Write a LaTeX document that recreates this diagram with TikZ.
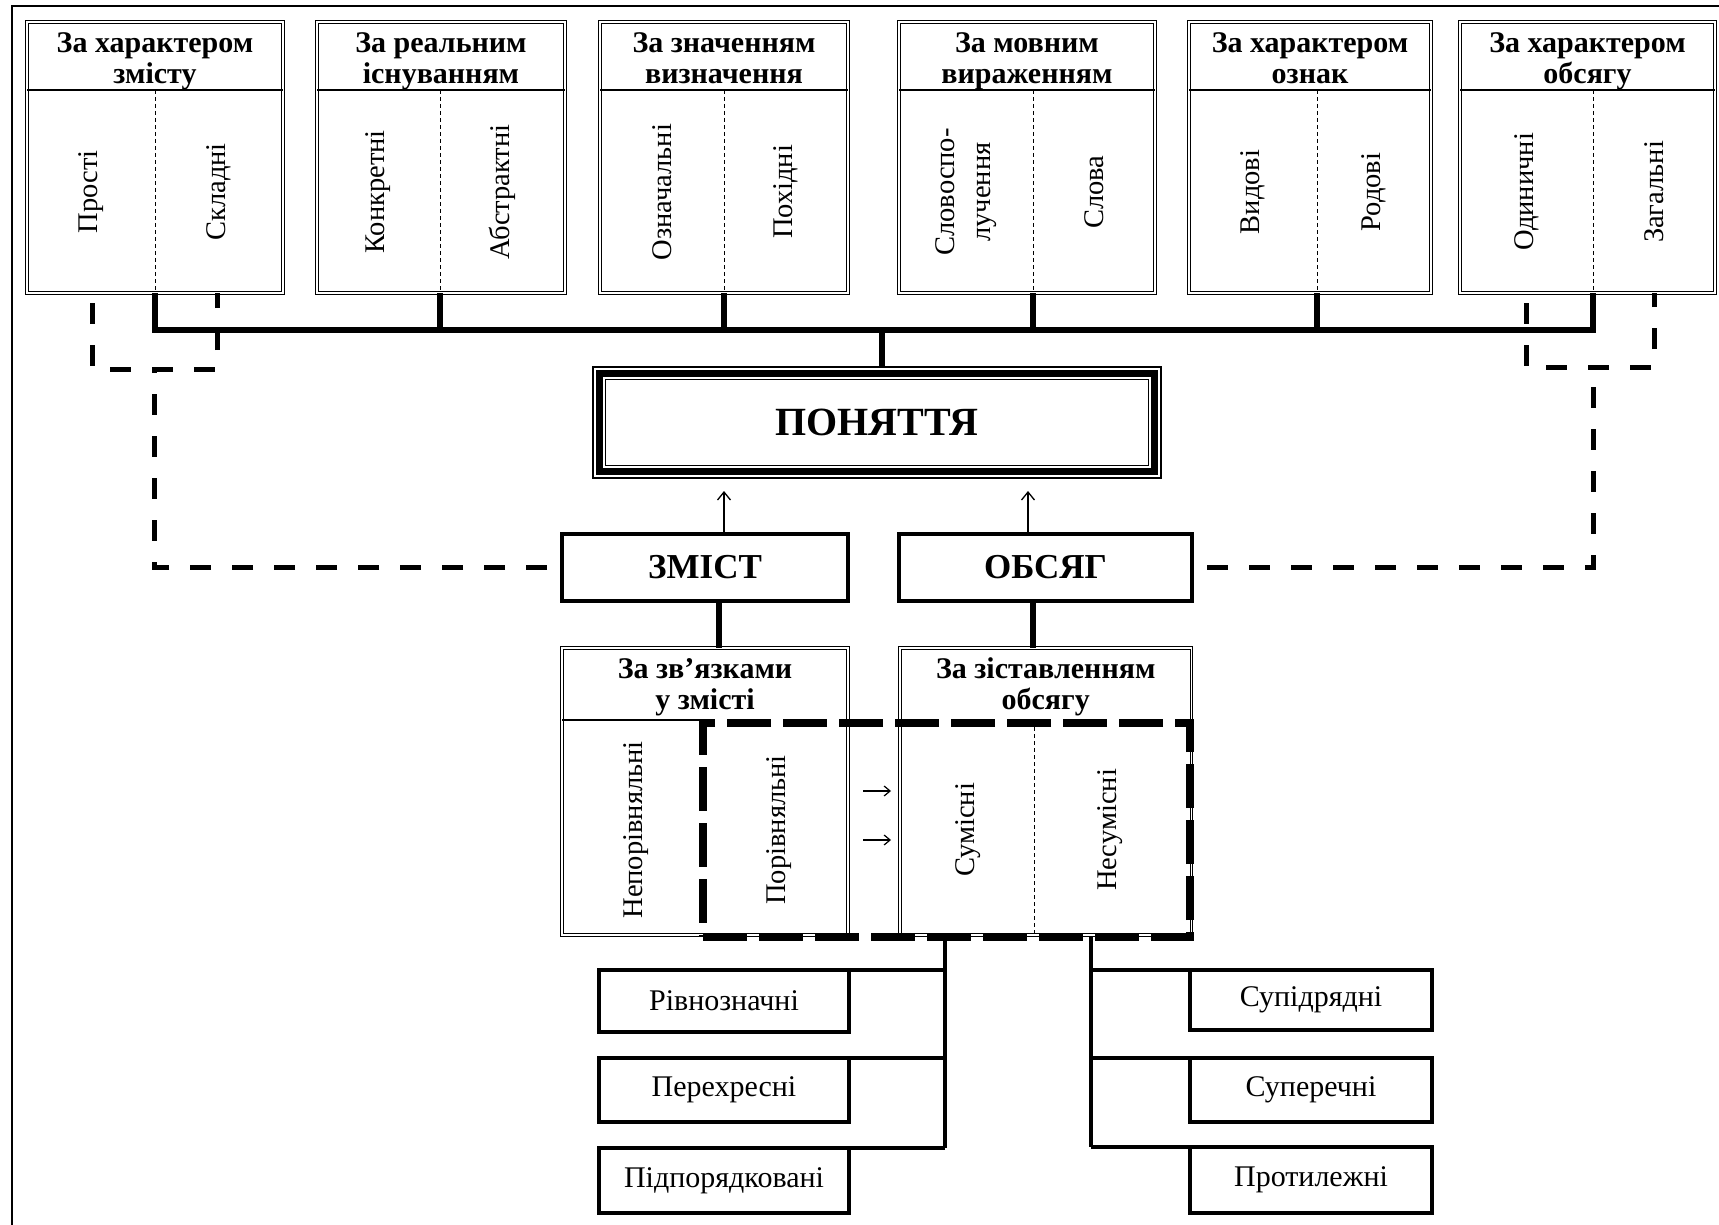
\documentclass[tikz,border=0pt]{standalone}
\usepackage{fontspec}
\setmainfont{Liberation Serif}
\usetikzlibrary{arrows.meta,calc}
\newcommand\HdrF{\bfseries\fontsize{30}{31}\selectfont}
\newcommand\VerF{\fontsize{28.5}{36}\selectfont}
\newcommand\LblF{\fontsize{30}{32}\selectfont}
\newcommand\PonF{\bfseries\fontsize{40}{42}\selectfont}
\newcommand\ZmF{\bfseries\fontsize{35}{37}\selectfont}
\tikzset{
 dbl/.style={draw, double, double distance=1.6pt, line width=0.9pt, outer sep=0pt, inner sep=0pt},
 thickbox/.style={draw, line width=4.5pt, outer sep=0pt, inner sep=0pt, font=\LblF},
 thinln/.style={line width=1.2pt},
 dotdiv/.style={line width=0.9pt, dash pattern=on 4pt off 3pt},
 busln/.style={line width=6pt},
 connln/.style={line width=4.5pt},
 dshln/.style={line width=5pt, dash pattern=on 21pt off 21pt},
 bigdsh/.style={draw, line width=8pt, dash pattern=on 44pt off 12pt, outer sep=0pt, inner sep=0pt},
 hdr/.style={font=\HdrF, align=center, inner sep=0pt},
 vtxt/.style={rotate=90, font=\VerF, align=center, inner sep=0pt},
 uparr/.style={line width=1.3pt, -{Straight Barb[length=8pt,width=13pt]}},
 smarr/.style={line width=1.2pt, -{Straight Barb[length=6pt,width=10pt]}},
}
\newcommand\TopBox[8]{%
  \node[dbl, anchor=north west, minimum width={(#3-#2)*1pt}, minimum height=271pt] (b#1) at (#2,22) {};
  \draw[thinln] (#2,90) -- (#3,90);
  \draw[dotdiv] (#4,90) -- (#4,293);
  \coordinate (d#1) at (#4,293);
  \node[hdr] (h#1) at ({(#2+#3)/2},61.5) {\strut#5\\#6\strut};
  \node[vtxt] (tl#1) at ({(#2+#4)/2},192) {#7};
  \node[vtxt] (tr#1) at ({(#4+#3)/2},192) {#8};
}
\begin{document}
\begin{tikzpicture}[x=1pt,y=-1pt]
\useasboundingbox (0,0) rectangle (1719,1225);
\fill[white] (0,0) rectangle (1719,1225);
% outer frame
\draw[line width=2.6pt] (12,1240) -- (12,6) -- (1740,6);

% top category boxes
\TopBox{1}{27}{283}{155}{За характером}{змісту}{Прості}{Складні}
\TopBox{2}{317}{565}{440}{За реальним}{існуванням}{Конкретні}{Абстрактні}
\TopBox{3}{600}{848}{724}{За значенням}{визначення}{Означальні}{Похідні}
\TopBox{4}{899}{1155}{1033}{За мовним}{вираженням}{Словоспо-\\лучення}{Слова}
\TopBox{5}{1189}{1431}{1317}{За характером}{ознак}{Видові}{Родові}
\TopBox{6}{1460}{1715}{1593}{За характером}{обсягу}{Одиничні}{Загальні}

% main concept
\node[draw, line width=1.2pt, outer sep=0pt, minimum width=568pt, minimum height=111pt, font=\PonF] (pon) at (877,422.5) {ПОНЯТТЯ};
\draw[line width=6.5pt] ([shift={(6.5,6.5)}]pon.north west) rectangle ([shift={(-6.5,-6.5)}]pon.south east);
\draw[line width=1.2pt] ([shift={(12.5,12.5)}]pon.north west) rectangle ([shift={(-12.5,-12.5)}]pon.south east);

% bus
\coordinate (bus) at (882,330);
\draw[busln] (d1) -- (d1 |- bus) -- (d6 |- bus) -- (d6);
\foreach \i in {2,...,5} \draw[busln] (d\i) -- (d\i |- bus);
\draw[busln] (bus) -- (bus |- pon.north);

% content / volume
\node[thickbox, line width=4pt, font=\ZmF, minimum width=286pt, minimum height=67pt] (zm) at (705,567.5) {ЗМІСТ};
\node[thickbox, line width=4pt, font=\ZmF, minimum width=293pt, minimum height=67pt] (ob) at (1045.5,567.5) {ОБСЯГ};
\coordinate (zt) at (724,491);
\coordinate (ot) at (1028,491);
\draw[uparr] (zt |- zm.north) -- (zt);
\draw[uparr] (ot |- ob.north) -- (ot);

% dashed side links
\coordinate (lv) at (154,369);
\coordinate (ls1) at (92,293);
\coordinate (ls2) at (217,293);
\draw[dshln, dash phase=27pt] (zm.west) -| (lv);
\draw[dshln, dash phase=32pt] (ls1) -- (ls1 |- lv) -- (ls2 |- lv) -- (ls2);
\coordinate (rv) at (1593,367);
\coordinate (rs1) at (1526,293);
\coordinate (rs2) at (1654,293);
\draw[dshln, dash phase=27pt] (ob.east) -| (rv);
\draw[dshln, dash phase=32pt] (rs1) -- (rs1 |- rv) -- (rs2 |- rv) -- (rs2);

% lower classification boxes
\node[dbl, anchor=north west, minimum width=286pt, minimum height=287pt] (zv) at (562,648) {};
\node[dbl, anchor=north west, minimum width=291.5pt, minimum height=287pt] (zs) at (900,648) {};
\draw[busln] ([xshift=14pt]zm.south) -- ([xshift=14pt]zm.south |- zv.north);
\draw[busln] ([xshift=-12.5pt]ob.south) -- ([xshift=-12.5pt]ob.south |- zs.north);
\node[hdr] (zvh) at (705,688) {\strut За зв’язками\\у змісті\strut};
\node[hdr] (zsh) at (1045.75,688) {\strut За зіставленням\\обсягу\strut};
\draw[thinln] (562,720) -- (703,720);
\draw[dotdiv] (1034.5,727) -- (1034.5,935);
\node[vtxt] (npr) at (636,830) {Непорівняльні};
\node[vtxt] (prv) at (779,830) {Порівняльні};
\node[vtxt] (sum) at (968,830) {Сумісні};
\node[vtxt] (nsm) at (1110,830) {Несумісні};
\coordinate (a1s) at (863,791); \coordinate (a1e) at (891,791);
\coordinate (a2s) at (863,840); \coordinate (a2e) at (891,840);
\draw[smarr] (a1s) -- (a1e);
\draw[smarr] (a2s) -- (a2e);
\node[bigdsh, anchor=north west, minimum width=487pt, minimum height=214pt] (dr) at (703,723) {};

% bottom boxes
\node[thickbox, minimum width=250pt, minimum height=62pt] (eq1) at (724,1001) {Рівнозначні};
\node[thickbox, minimum width=250pt, minimum height=64pt] (eq2) at (724,1090) {Перехресні};
\node[thickbox, minimum width=250pt, minimum height=65pt] (eq3) at (724,1180.5) {Підпорядковані};
\node[thickbox, minimum width=242pt, minimum height=60pt] (nq1) at (1311,1000) {Супідрядні};
\node[thickbox, minimum width=242pt, minimum height=64pt] (nq2) at (1311,1090) {Суперечні};
\node[thickbox, minimum width=242pt, minimum height=66pt] (nq3) at (1311,1180) {Протилежні};

\coordinate (vl) at (945,936);
\coordinate (vr) at (1091,936);
\draw[connln] (vl) -- (vl |- eq3.north);
\draw[connln] (vr) -- (vr |- nq3.north);
\foreach \n in {eq1,eq2,eq3} \draw[connln] (\n.north east) -- (\n.north east -| vl);
\foreach \n in {nq1,nq2,nq3} \draw[connln] (\n.north west) -- (\n.north west -| vr);
\end{tikzpicture}
\end{document}
